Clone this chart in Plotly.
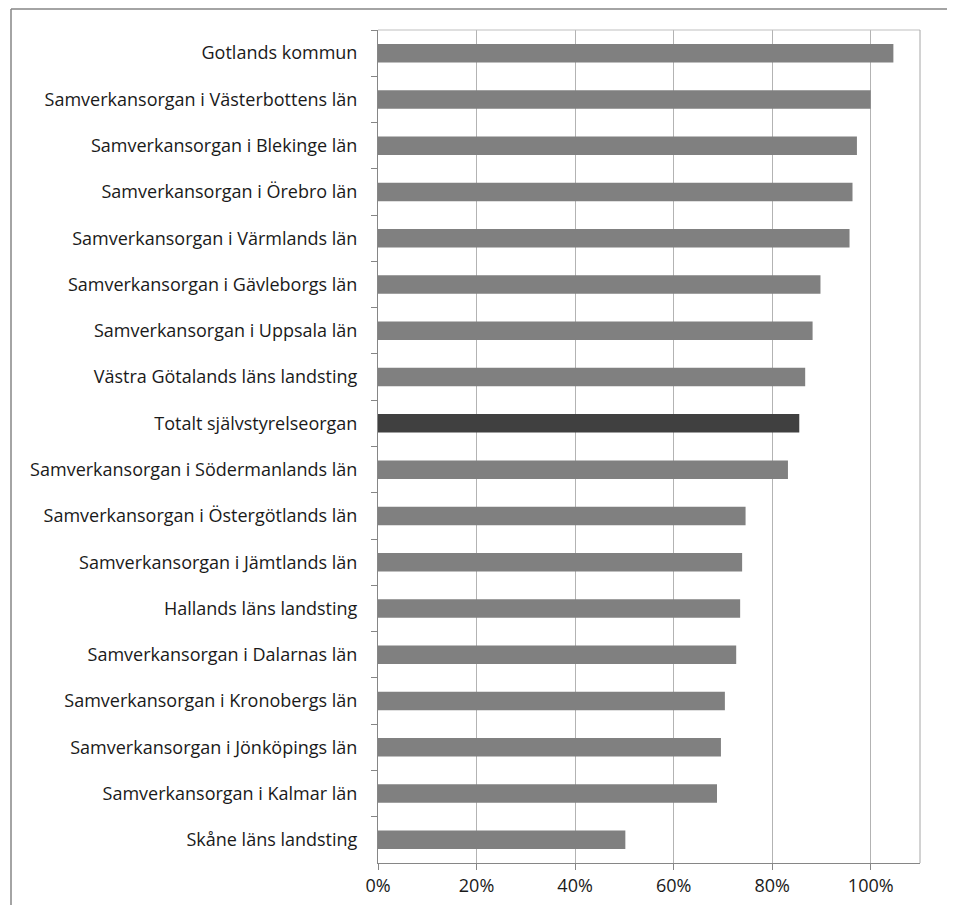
import plotly.graph_objects as go

categories = [
    "Gotlands kommun",
    "Samverkansorgan i Västerbottens län",
    "Samverkansorgan i Blekinge län",
    "Samverkansorgan i Örebro län",
    "Samverkansorgan i Värmlands län",
    "Samverkansorgan i Gävleborgs län",
    "Samverkansorgan i Uppsala län",
    "Västra Götalands läns landsting",
    "Totalt självstyrelseorgan",
    "Samverkansorgan i Södermanlands län",
    "Samverkansorgan i Östergötlands län",
    "Samverkansorgan i Jämtlands län",
    "Hallands läns landsting",
    "Samverkansorgan i Dalarnas län",
    "Samverkansorgan i Kronobergs län",
    "Samverkansorgan i Jönköpings län",
    "Samverkansorgan i Kalmar län",
    "Skåne läns landsting",
]
values = [1.046, 1.000, 0.972, 0.963, 0.957, 0.898, 0.882, 0.867, 0.855,
          0.832, 0.746, 0.739, 0.735, 0.727, 0.704, 0.696, 0.688, 0.502]
tick_values = [0, 0.2, 0.4, 0.6, 0.8, 1.0]
tick_labels = ["0%", "20%", "40%", "60%", "80%", "100%"]
total_name = "Totalt självstyrelseorgan"

colors = ["#404040" if c == total_name else "#808080" for c in categories]

# page body has an 8px default margin on every side; keep the figure inside the window
OFF = 8
W, H = 955 - 2 * OFF, 913 - 2 * OFF
L, R, T, B = 378 - OFF, 920 - OFF, 30 - OFF, 863 - OFF

fig = go.Figure(go.Bar(
    x=values, y=categories, orientation="h",
    marker=dict(color=colors, line=dict(width=0)),
    width=0.4,
))

fig.update_layout(
    width=W, height=H,
    margin=dict(l=L, r=W - R, t=T, b=H - B),
    paper_bgcolor="white", plot_bgcolor="white",
    showlegend=False,
    font=dict(family="Open Sans, sans-serif", size=18, color="#1a1a1a"),
    xaxis=dict(
        range=[0, 1.1], tickvals=tick_values, ticktext=tick_labels,
        showgrid=True, gridcolor="#b3b3b3", gridwidth=1,
        showline=True, linecolor="#868686", linewidth=1,
        ticks="outside", ticklen=6, tickcolor="#868686",
        zeroline=False, fixedrange=True, automargin=False,
        tickfont=dict(size=18),
    ),
    yaxis=dict(
        autorange="reversed", type="category",
        showgrid=False, showline=True, linecolor="#868686", linewidth=1,
        ticks="outside", ticklen=6, tickcolor="#868686",
        tickson="boundaries", ticklabelstandoff=16, automargin=False,
        tickfont=dict(size=18),
    ),
)

pw, ph = R - L, B - T
def px(x):
    return (x - OFF - L) / pw
def py(y):
    return (B - (y - OFF)) / ph

shapes = [
    dict(type="line", xref="paper", yref="paper", x0=0, x1=1, y0=1, y1=1,
         line=dict(color="#bfbfbf", width=1)),
    dict(type="line", xref="paper", yref="paper", x0=1, x1=1, y0=0, y1=1,
         line=dict(color="#a6a6a6", width=1)),
    dict(type="line", xref="paper", yref="paper", x0=px(11), x1=px(11), y0=py(940), y1=py(9),
         line=dict(color="#868686", width=1.5)),
    dict(type="line", xref="paper", yref="paper", x0=px(11), x1=px(980), y0=py(9), y1=py(9),
         line=dict(color="#868686", width=1.5)),
]
fig.update_layout(shapes=shapes)

fig.write_html("out.html")
